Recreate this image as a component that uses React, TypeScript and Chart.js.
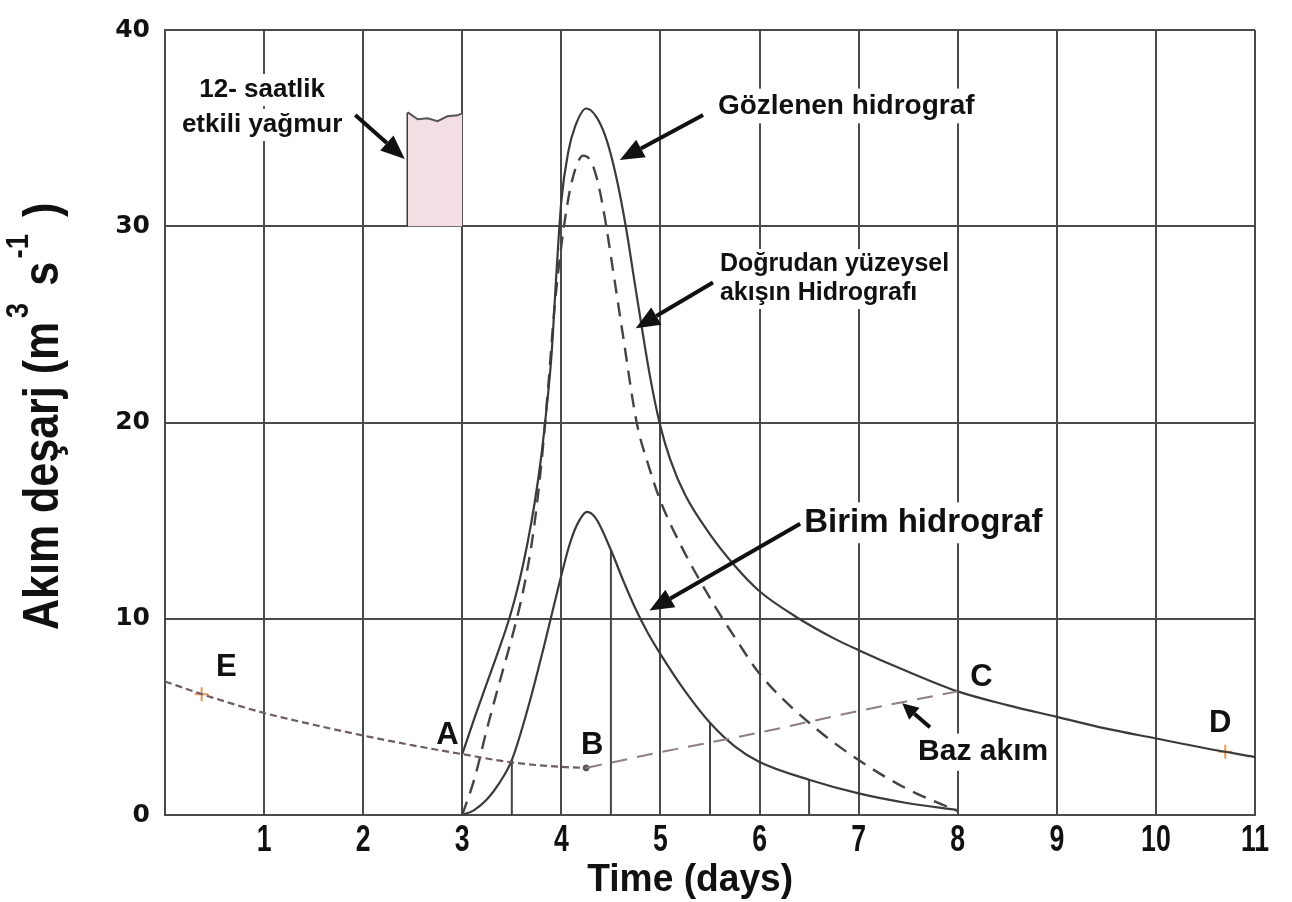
import React, { useEffect, useRef } from "react";
import { Chart, registerables } from "chart.js";

Chart.register(...registerables);

// ---------- data ----------
const xTickValues = [0, 1, 2, 3, 4, 5, 6, 7, 8, 9, 10, 11];
const yTickValues = [0, 10, 20, 30, 40];

// base flow recession E -> A -> B
const recessionX = [0, 0.5, 1, 1.5, 2, 2.5, 3, 3.5, 4, 4.25];
const recessionY = [6.8, 5.95, 5.2, 4.6, 4.05, 3.55, 3.1, 2.68, 2.45, 2.4];

// base flow separation B -> C
const baseRiseX = [4.25, 5, 6, 7, 8];
const baseRiseY = [2.4, 3.2, 4.2, 5.3, 6.3];

// observed hydrograph (A -> C -> D)
const observedX = [3, 3.12, 3.24, 3.36, 3.48, 3.58, 3.66, 3.73, 3.79, 3.84, 3.9, 3.95, 4.0, 4.07, 4.14, 4.25, 4.35, 4.45, 4.55, 4.65, 4.75, 4.9, 5.0, 5.1, 5.25, 5.5, 5.75, 6.0, 6.4, 6.75, 7.0, 7.5, 8.0, 8.5, 9.0, 9.5, 10.0, 10.5, 11.0];
const observedY = [3.1, 4.9, 6.6, 8.3, 10.1, 12.0, 13.9, 15.9, 18.0, 20.2, 23.4, 27.6, 31.3, 33.8, 35.1, 36.0, 35.6, 34.5, 32.6, 30.0, 26.8, 22.2, 19.8, 18.1, 16.3, 14.3, 12.7, 11.4, 10.0, 9.0, 8.4, 7.3, 6.3, 5.6, 5.0, 4.4, 3.9, 3.4, 2.95];

// direct runoff hydrograph (dashed)
const directX = [3, 3.12, 3.26, 3.4, 3.53, 3.63, 3.72, 3.8, 3.87, 3.93, 4.0, 4.07, 4.14, 4.22, 4.3, 4.37, 4.44, 4.52, 4.62, 4.76, 4.88, 5.0, 5.2, 5.53, 5.77, 6.0, 6.5, 7.0, 7.5, 8.0];
const directY = [0, 1.8, 4.6, 7.2, 9.6, 11.8, 14.5, 18.0, 22.0, 25.8, 29.0, 31.4, 32.9, 33.6, 33.3, 32.2, 30.4, 27.8, 24.5, 20.0, 17.8, 16.0, 13.8, 10.8, 8.9, 7.2, 4.7, 2.8, 1.3, 0.2];

// unit hydrograph
const unitX = [3, 3.12, 3.25, 3.37, 3.5, 3.66, 3.82, 3.95, 4.09, 4.18, 4.26, 4.35, 4.5, 4.62, 4.74, 4.87, 5.0, 5.25, 5.5, 5.75, 6.0, 6.5, 7.0, 7.5, 8.0];
const unitY = [0, 0.25, 0.8, 1.6, 2.8, 5.4, 8.5, 11.2, 13.9, 15.0, 15.45, 15.1, 13.5, 12.0, 10.6, 9.3, 8.2, 6.3, 4.7, 3.5, 2.7, 1.8, 1.1, 0.6, 0.25];

// half-day ordinates of the unit hydrograph
const ordinateX = [3.5, 4.5, 5.5, 6.5];
const ordinateY = [2.8, 13.5, 4.7, 1.8];

// 12-hour effective rainfall block
const rainX = [2.45, 2.55, 2.65, 2.75, 2.85, 2.95, 3.0];
const rainY = [35.8, 35.45, 35.5, 35.35, 35.6, 35.65, 35.75];
const rainBase = 30;

// E and D markers, B point
const markerX = [0.37, 10.7];
const markerY = [6.15, 3.22];
const pointBX = [4.25];
const pointBY = [2.4];

// point letters
const letterText = ["A", "B", "C", "D", "E"];
const letterX = [2.85, 4.31, 8.24, 10.65, 0.62];
const letterY = [4.07, 3.56, 7.0, 4.67, 7.5];

// annotations (data coordinates)
const notes = [
  { lines: ["12- saatlik", "etkili yağmur"], x: 0.98, ys: [36.94, 35.16], align: "center", size: 26 },
  { lines: ["Gözlenen hidrograf"], x: 5.58, ys: [36.13], align: "left", size: 28 },
  { lines: ["Doğrudan yüzeysel", "akışın Hidrografı"], x: 5.6, ys: [28.05, 26.57], align: "left", size: 25 },
  { lines: ["Birim hidrograf"], x: 6.45, ys: [14.89], align: "left", size: 33 },
  { lines: ["Baz akım"], x: 7.6, ys: [3.2], align: "left", size: 30 },
];
const arrowFromX = [1.92, 5.43, 5.53, 6.41, 7.72];
const arrowFromY = [35.67, 35.67, 27.13, 14.84, 4.47];
const arrowToX = [2.42, 4.59, 4.75, 4.89, 7.44];
const arrowToY = [33.43, 33.38, 24.8, 10.42, 5.69];

const xTitle = "Time (days)";
const yTitleParts = ["Akım deşarj (m", "3", " s", "-1", " )"];

const pairs = (xs: number[], ys: number[]) => xs.map((x, i) => ({ x, y: ys[i] }));

const SANS = "'Liberation Sans', Arial, sans-serif";

const annotationPlugin = {
  id: "annotations",
  afterDatasetsDraw(chart: any) {
    const { ctx, chartArea } = chart;
    const xs = chart.scales.x;
    const ys = chart.scales.y;
    const px = (v: number) => xs.getPixelForValue(v);
    const py = (v: number) => ys.getPixelForValue(v);

    ctx.save();
    // notes
    notes.forEach((n) => {
      ctx.font = `bold ${n.size}px ${SANS}`;
      ctx.textBaseline = "middle";
      ctx.textAlign = "left";
      n.lines.forEach((line, i) => {
        const w = ctx.measureText(line).width;
        const cx = px(n.x);
        const cy = py(n.ys[i]);
        const left = n.align === "center" ? cx - w / 2 : cx;
        ctx.fillStyle = "#ffffff";
        ctx.fillRect(left - 4, cy - n.size * 0.62, w + 8, n.size * 1.24);
      });
      n.lines.forEach((line, i) => {
        const w = ctx.measureText(line).width;
        const cx = px(n.x);
        const cy = py(n.ys[i]);
        const left = n.align === "center" ? cx - w / 2 : cx;
        ctx.fillStyle = "#111111";
        ctx.fillText(line, left, cy);
      });
    });

    // arrows
    arrowFromX.forEach((fx, i) => {
      const x1 = px(fx), y1 = py(arrowFromY[i]);
      const x2 = px(arrowToX[i]), y2 = py(arrowToY[i]);
      const ang = Math.atan2(y2 - y1, x2 - x1);
      const head = i === 4 ? 16 : 24;
      const hw = i === 4 ? 8 : 10;
      const bx = x2 - head * Math.cos(ang), by = y2 - head * Math.sin(ang);
      ctx.strokeStyle = "#111";
      ctx.lineWidth = 4;
      ctx.beginPath();
      ctx.moveTo(x1, y1);
      ctx.lineTo(bx, by);
      ctx.stroke();
      ctx.fillStyle = "#111";
      ctx.beginPath();
      ctx.moveTo(x2, y2);
      ctx.lineTo(bx + hw * Math.sin(ang), by - hw * Math.cos(ang));
      ctx.lineTo(bx - hw * Math.sin(ang), by + hw * Math.cos(ang));
      ctx.closePath();
      ctx.fill();
    });

    // point letters
    ctx.font = `bold 31px ${SANS}`;
    ctx.textAlign = "center";
    ctx.textBaseline = "middle";
    ctx.fillStyle = "#111";
    letterText.forEach((t, i) => ctx.fillText(t, px(letterX[i]), py(letterY[i])));

    // x tick labels (condensed)
    ctx.font = `bold 37px ${SANS}`;
    xTickValues.forEach((v) => {
      if (v === 0) return;
      ctx.save();
      ctx.translate(px(v), chartArea.bottom + 26);
      ctx.scale(0.72, 1);
      ctx.fillText(String(v), 0, 0);
      ctx.restore();
    });

    // x title (condensed)
    ctx.font = `bold 38px ${SANS}`;
    const tw = ctx.measureText(xTitle).width;
    ctx.save();
    ctx.translate(px(5.3), chartArea.bottom + 66);
    ctx.scale(206 / tw, 1);
    ctx.fillText(xTitle, 0, 0);
    ctx.restore();

    // y title (rotated, condensed)
    ctx.save();
    ctx.translate(chartArea.left - 107, chartArea.bottom - 185);
    ctx.rotate(-Math.PI / 2);
    ctx.scale(0.86, 1);
    ctx.textAlign = "left";
    ctx.textBaseline = "alphabetic";
    let cur = 0;
    yTitleParts.forEach((p, i) => {
      const sup = i === 1 || i === 3;
      ctx.font = sup ? `bold 32px ${SANS}` : `bold 50px ${SANS}`;
      ctx.fillText(p, cur + (sup ? 4 : 0), sup ? -30 : 0);
      cur += ctx.measureText(p).width + (sup ? 10 : 0);
    });
    ctx.restore();
    ctx.restore();
  },
};

export default function App() {
  const canvasRef = useRef<HTMLCanvasElement | null>(null);

  useEffect(() => {
    if (!canvasRef.current) return;
    const ordinateData: any[] = [];
    ordinateX.forEach((x, i) => {
      ordinateData.push({ x, y: 0 }, { x, y: ordinateY[i] }, { x, y: null });
    });

    const curve = {
      pointRadius: 0,
      cubicInterpolationMode: "monotone",
      fill: false,
    };

    const chart = new Chart(canvasRef.current, {
      type: "line",
      data: {
        datasets: [
          {
            data: pairs(rainX, rainY),
            borderColor: "#555",
            borderWidth: 2,
            backgroundColor: "#f3dfe3",
            fill: { value: rainBase },
            pointRadius: 0,
            tension: 0,
          },
          {
            data: [{ x: rainX[0], y: rainBase }, { x: rainX[0], y: rainY[0] }],
            borderColor: "#333",
            borderWidth: 2.5,
            pointRadius: 0,
            fill: false,
          },
          { ...curve, data: pairs(recessionX, recessionY), borderColor: "#6e5c63", borderWidth: 2.2, borderDash: [7, 4] },
          { ...curve, data: pairs(baseRiseX, baseRiseY), borderColor: "#8d7f84", borderWidth: 2, borderDash: [16, 10] },
          { ...curve, data: pairs(observedX, observedY), borderColor: "#3a3a3a", borderWidth: 2.2 },
          { ...curve, data: pairs(directX, directY), borderColor: "#444", borderWidth: 2.4, borderDash: [14, 9] },
          { ...curve, data: pairs(unitX, unitY), borderColor: "#3a3a3a", borderWidth: 2.2 },
          {
            data: ordinateData,
            borderColor: "#444",
            borderWidth: 2,
            pointRadius: 0,
            spanGaps: false,
            tension: 0,
            fill: false,
          },
          {
            data: pairs(markerX, markerY),
            showLine: false,
            pointStyle: "cross",
            pointRadius: 7,
            pointBorderWidth: 2,
            pointBorderColor: "#e59a58",
            borderColor: "#e59a58",
            fill: false,
          },
          {
            data: pairs(pointBX, pointBY),
            showLine: false,
            pointRadius: 3,
            pointBackgroundColor: "#555",
            pointBorderColor: "#555",
            fill: false,
          },
        ],
      },
      options: {
        animation: false,
        responsive: false,
        maintainAspectRatio: false,
        layout: { padding: { top: 28, right: 37, left: 0, bottom: 0 } },
        plugins: { legend: { display: false }, tooltip: { enabled: false } },
        scales: {
          x: {
            type: "linear",
            min: 0,
            max: 11,
            afterFit: (s: any) => {
              s.height = 87;
            },
            afterBuildTicks: (s: any) => {
              s.ticks = xTickValues.map((v) => ({ value: v }));
            },
            grid: { color: "#4a4a4a", lineWidth: 2, drawTicks: false },
            border: { color: "#4a4a4a", width: 2 },
            ticks: { display: false },
          },
          y: {
            type: "linear",
            min: 0,
            max: 40,
            afterFit: (s: any) => {
              s.width = 165;
            },
            afterBuildTicks: (s: any) => {
              s.ticks = yTickValues.map((v) => ({ value: v }));
            },
            grid: { color: "#4a4a4a", lineWidth: 2, drawTicks: false },
            border: { color: "#4a4a4a", width: 2 },
            ticks: {
              font: { family: "'DejaVu Sans', sans-serif", size: 25, weight: "bold" },
              color: "#111",
              padding: 15,
            },
          },
        },
      },
      plugins: [annotationPlugin],
    } as any);
    return () => chart.destroy();
  }, []);

  return (
    <div style={{ position: "fixed", left: 0, top: 0, width: 1292, height: 902, background: "#fff" }}>
      <canvas ref={canvasRef} width={1292} height={902} style={{ display: "block", width: 1292, height: 902 }} />
    </div>
  );
}
